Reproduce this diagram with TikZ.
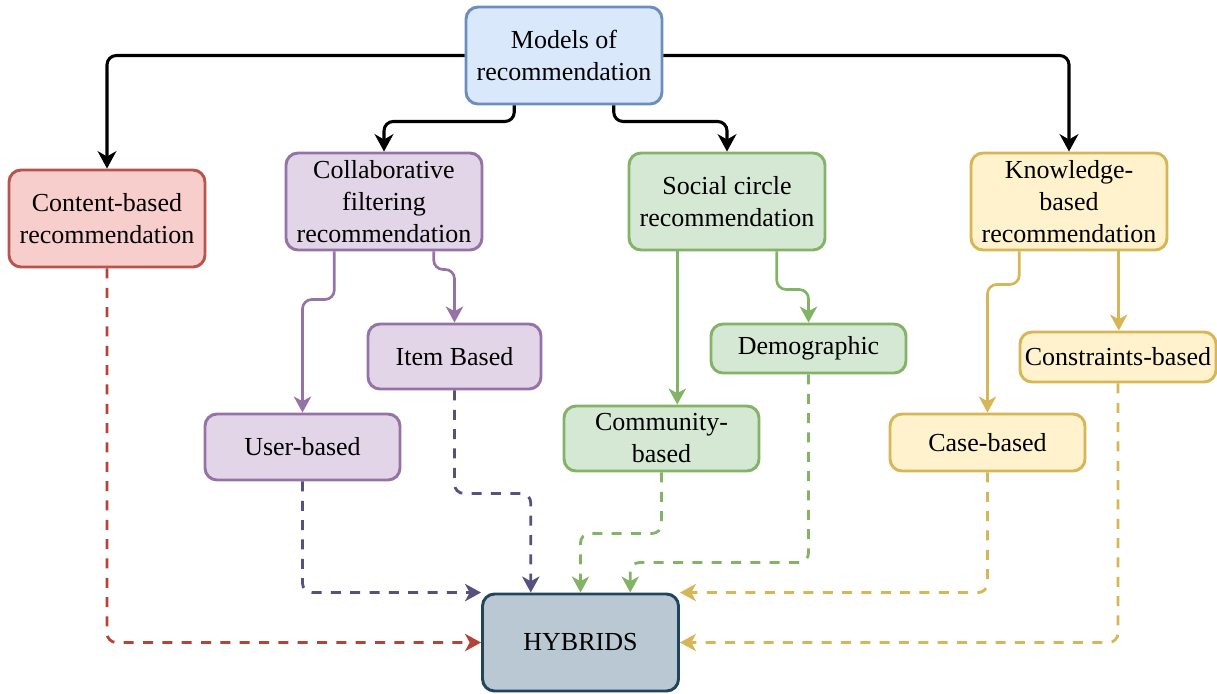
\documentclass[tikz,border=0pt]{standalone}
\usepackage{fontspec}
\setmainfont{Liberation Serif}
\usetikzlibrary{arrows.meta,calc}

\definecolor{blueF}{HTML}{DAE8FC}\definecolor{blueD}{HTML}{6C8EBF}
\definecolor{redF}{HTML}{F8CECC}\definecolor{redD}{HTML}{B85450}
\definecolor{purF}{HTML}{E1D5E7}\definecolor{purD}{HTML}{9673A6}
\definecolor{grnF}{HTML}{D5E8D4}\definecolor{grnD}{HTML}{82B366}
\definecolor{ylwF}{HTML}{FFF2CC}\definecolor{ylwD}{HTML}{D6B656}
\definecolor{hybF}{HTML}{BAC8D3}\definecolor{hybD}{HTML}{23445D}
\definecolor{redL}{HTML}{B5433A}
\definecolor{purL}{HTML}{56517E}

\tikzset{
  box/.style={draw, rounded corners=9pt, line width=2.2pt, align=center,
    inner sep=0pt, font=\fontsize{19.5}{24}\selectfont},
  big/.style={box, minimum width=147pt, minimum height=72.75pt},
  blueBox/.style={big, fill=blueF, draw=blueD},
  redBox/.style={big, fill=redF, draw=redD},
  purBox/.style={box, fill=purF, draw=purD},
  grnBox/.style={box, fill=grnF, draw=grnD},
  ylwBox/.style={box, fill=ylwF, draw=ylwD},
  hybBox/.style={big, fill=hybF, draw=hybD},
  mainEdge/.style={draw=black, line width=2.3pt, rounded corners=7pt,
    -{Stealth[length=13pt, width=14pt, inset=4pt]}},
  subEdge/.style={line width=2pt, rounded corners=7pt,
    -{Stealth[length=12pt, width=13pt, inset=3.5pt]}},
  dashEdge/.style={subEdge, line width=2.1pt, dash pattern=on 7.5pt off 7pt},
}

\begin{document}
\begin{tikzpicture}[x=0.75pt, y=-0.75pt]
\useasboundingbox (0,0) rectangle (1217,693);

% boxes
\node[blueBox] (models) at (564,55.5) {Models of\\recommendation};
\node[redBox] (content) at (107,218.5) {Content-based\\recommendation};
\node[big, purBox] (collab) at (384,201.5) {Collaborative\\filtering\\recommendation};
\node[big, grnBox] (social) at (727,201.5) {Social circle\\recommendation};
\node[big, ylwBox] (know) at (1069,201.5) {Knowledge-\\based\\recommendation};

\node[purBox, minimum width=129.75pt, minimum height=48.75pt] (item) at (454.5,356.5) {Item Based};
\node[purBox, minimum width=146.25pt, minimum height=49.5pt] (user) at (302.5,447) {User-based};
\node[grnBox, minimum width=146.25pt, minimum height=36.75pt] (demo) at (808.5,348.5) {Demographic};
\node[grnBox, minimum width=146.25pt, minimum height=48.75pt] (comm) at (661.5,438.5) {Community-\\based};
\node[ylwBox, minimum width=146.25pt, minimum height=42.75pt] (case) at (987.5,442.5) {Case-based};
\node[ylwBox, minimum width=147pt, minimum height=37.5pt] (cons) at (1118,357) {Constraints-based};

\node[hybBox] (hyb) at (580.5,642.5) {HYBRIDS};

% exit points on the lower edges
\coordinate (m1) at ($(models.south west)!0.25!(models.south east)$);
\coordinate (m2) at ($(models.south west)!0.75!(models.south east)$);
\coordinate (c1) at ($(collab.south west)!0.25!(collab.south east)$);
\coordinate (c2) at ($(collab.south west)!0.75!(collab.south east)$);
\coordinate (s1) at ($(social.south west)!0.25!(social.south east)$);
\coordinate (s2) at ($(social.south west)!0.75!(social.south east)$);
\coordinate (k1) at ($(know.south west)!0.25!(know.south east)$);
\coordinate (k2) at ($(know.south west)!0.75!(know.south east)$);
\coordinate (h1) at ($(hyb.north west)!0.25!(hyb.north east)$);
\coordinate (h3) at ($(hyb.north west)!0.75!(hyb.north east)$);

% main model branches
\draw[mainEdge] (models.west) -| (content.north);
\draw[mainEdge] (models.east) -| (know.north);
\draw[mainEdge] (m1) -- ++(0,16) -| (collab.north);
\draw[mainEdge] (m2) -- ++(0,16) -| (social.north);

% sub-types
\draw[subEdge, draw=purD] (c1) -- ++(0,48) -| (user.north);
\draw[subEdge, draw=purD] (c2) -- ++(0,18) -| (item.north);
\draw[subEdge, draw=grnD] (s1) -- (s1 |- comm.north);
\draw[subEdge, draw=grnD] (s2) -- ++(0,38) -| (demo.north);
\draw[subEdge, draw=ylwD] (k1) -- ++(0,33) -| (case.north);
\draw[subEdge, draw=ylwD] (k2) -- (k2 |- cons.north);

% everything feeds the hybrids
\draw[dashEdge, draw=redL] (content.south) |- (hyb.west);
\draw[dashEdge, draw=purL] (user.south) |- (hyb.north west);
\draw[dashEdge, draw=purL] (item.south) -- ++(0,103) -| (h1);
\draw[dashEdge, draw=grnD] (comm.south) -- ++(0,61) -| (hyb.north);
\draw[dashEdge, draw=grnD] (demo.south) -- ++(0,188) -| (h3);
\draw[dashEdge, draw=ylwD] (case.south) |- (hyb.north east);
\draw[dashEdge, draw=ylwD] (cons.south) |- (hyb.east);
\end{tikzpicture}
\end{document}
